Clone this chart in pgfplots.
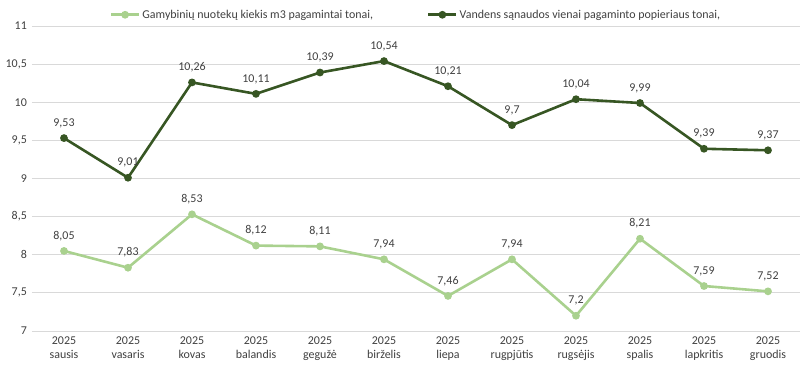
\documentclass[border=0pt]{standalone}
\usepackage{pgfplots}
\pgfplotsset{compat=1.18}
\usepackage{fontspec}
\setmainfont{Carlito}
\definecolor{lgreen}{HTML}{A9D18E}
\definecolor{dgreen}{HTML}{375623}
\definecolor{gridc}{HTML}{D9D9D9}
\definecolor{txt}{HTML}{404040}
\begin{document}
\fontsize{12}{14}\selectfont
\begin{tikzpicture}
\useasboundingbox (-32bp,-46bp) rectangle (779bp,331bp);
\begin{axis}[
  at={(0,0)}, anchor=south west,
  scale only axis,
  width=768bp, height=305bp,
  xmin=-0.5, xmax=11.5,
  ymin=7, ymax=11,
  ytick={7,7.5,...,11},
  xtick={0,...,11},
  xticklabels={{2025\\sausis},{2025\\vasaris},{2025\\kovas},{2025\\balandis},{2025\\gegužė},{2025\\birželis},{2025\\liepa},{2025\\rugpjūtis},{2025\\rugsėjis},{2025\\spalis},{2025\\lapkritis},{2025\\gruodis}},
  xticklabel style={align=center, font=\fontsize{12}{14}\selectfont, text=txt, yshift=-2bp},
  yticklabel style={text=txt, xshift=-1bp, font=\fontsize{12}{14}\selectfont},
  /pgf/number format/use comma,
  /pgf/number format/assume math mode=true,
  ymajorgrids, grid style={gridc, line width=0.8pt},
  axis line style={draw=none},
  axis x line*=bottom,
  x axis line style={gridc, line width=0.8pt, draw=gridc},
  major tick length=0pt,
  tick style={draw=none},
  legend image code/.code={\draw[mark repeat=2,mark phase=2] plot coordinates {(0bp,0bp) (14bp,0bp) (28bp,0bp)};},
  legend style={at={(0.5,1)}, anchor=south, yshift=2bp, draw=none, fill=none,
    font=\fontsize{12}{14}\selectfont, text=txt, legend columns=2,
    /tikz/column 2/.style={column sep=52bp},
    /tikz/every odd column/.append style={column sep=0bp}},
  legend cell align=left,
  nodes near coords,
  every node near coord/.append style={text=txt, anchor=south, yshift=5bp, font=\fontsize{12}{14}\selectfont},
  clip=false,
]
\addplot[lgreen, line width=2.6bp, mark=*, mark size=2.5bp, mark options={fill=lgreen, draw=lgreen}] coordinates {
(0,8.05) (1,7.83) (2,8.53) (3,8.12) (4,8.11) (5,7.94) (6,7.46) (7,7.94) (8,7.2) (9,8.21) (10,7.59) (11,7.52)};
\addlegendentry{Gamybinių nuotekų kiekis m3 pagamintai tonai,}
\addplot[dgreen, line width=2.6bp, mark=*, mark size=2.5bp, mark options={fill=dgreen, draw=dgreen}] coordinates {
(0,9.53) (1,9.01) (2,10.26) (3,10.11) (4,10.39) (5,10.54) (6,10.21) (7,9.7) (8,10.04) (9,9.99) (10,9.39) (11,9.37)};
\addlegendentry{Vandens sąnaudos vienai pagaminto popieriaus tonai,}
\end{axis}
\end{tikzpicture}
\end{document}
